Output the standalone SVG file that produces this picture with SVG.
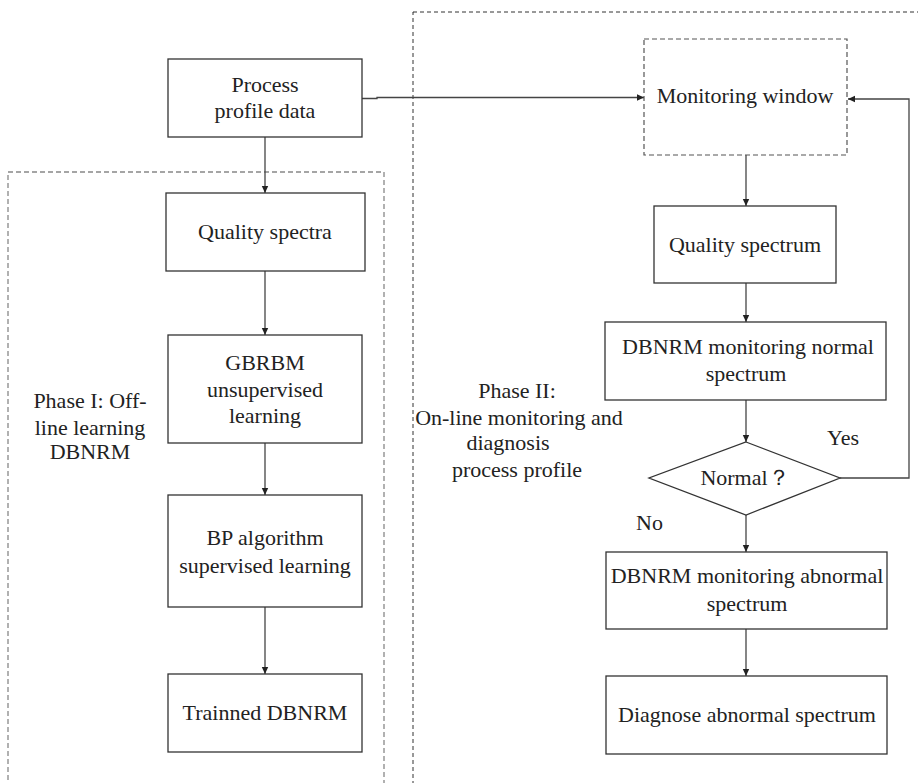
<svg xmlns="http://www.w3.org/2000/svg" width="918" height="783" viewBox="0 0 918 783">
<style>
  .box{fill:#fff;stroke:#333;stroke-width:1.3}
  .dbox{fill:none;stroke:#555;stroke-width:1.2;stroke-dasharray:5,3}
  .t{font-family:"Liberation Serif","Times New Roman",serif;font-size:22px;fill:#222;text-anchor:middle}
  .tl{font-family:"Liberation Serif","Times New Roman",serif;font-size:22px;fill:#222}
  .c{fill:none;stroke:#444;stroke-width:1.3}
</style>
<defs>
  <marker id="ah" markerWidth="8" markerHeight="8" refX="7" refY="4" orient="auto" markerUnits="userSpaceOnUse">
    <path d="M0,0.8 L7,4 L0,7.2 Z" fill="#222"/>
  </marker>
</defs>
<rect width="918" height="783" fill="#fff"/>

<g id="phase1-region">
  <rect x="8" y="172" width="376" height="620" fill="none" stroke="#888" stroke-width="1.3" stroke-dasharray="5,3"/>
  <text class="t" x="90" y="408">Phase I: Off-</text>
  <text class="t" x="90" y="435">line learning</text>
  <text class="t" x="90" y="459">DBNRM</text>
</g>
<g id="phase2-region">
  <rect x="413" y="12" width="520" height="780" fill="none" stroke="#333" stroke-width="1" stroke-dasharray="4,3"/>
  <text class="t" x="517" y="398">Phase II:</text>
  <text class="t" x="519" y="425">On-line monitoring and</text>
  <text class="t" x="508" y="450">diagnosis</text>
  <text class="t" x="517" y="477">process profile</text>
</g>

<g id="connectors">
  <line class="c" x1="265" y1="137" x2="265" y2="193" marker-end="url(#ah)"/>
  <line class="c" x1="265" y1="271" x2="265" y2="335" marker-end="url(#ah)"/>
  <line class="c" x1="265" y1="443" x2="265" y2="495" marker-end="url(#ah)"/>
  <line class="c" x1="265" y1="607" x2="265" y2="674" marker-end="url(#ah)"/>
  <path class="c" d="M362,98.5 H377 V97.5 H644" marker-end="url(#ah)"/>
  <line class="c" x1="746" y1="155" x2="746" y2="206" marker-end="url(#ah)"/>
  <line class="c" x1="746" y1="283" x2="746" y2="322" marker-end="url(#ah)"/>
  <line class="c" x1="746" y1="400" x2="746" y2="442" marker-end="url(#ah)"/>
  <path class="c" d="M840,478 H909 V99 H848" marker-end="url(#ah)"/>
  <line class="c" x1="746" y1="515" x2="746" y2="552" marker-end="url(#ah)"/>
  <line class="c" x1="746" y1="629" x2="746" y2="676" marker-end="url(#ah)"/>
  <text class="t" x="843" y="445">Yes</text>
  <text class="tl" x="636" y="530">No</text>
</g>

<g id="process-profile-data">
  <rect class="box" x="168" y="59" width="194" height="78"/>
  <text class="t" x="265" y="92">Process</text>
  <text class="t" x="265" y="118">profile data</text>
</g>
<g id="quality-spectra">
  <rect class="box" x="166" y="193" width="199" height="78"/>
  <text class="t" x="265" y="239">Quality spectra</text>
</g>
<g id="gbrbm">
  <rect class="box" x="168" y="335" width="194" height="108"/>
  <text class="t" x="265" y="370">GBRBM</text>
  <text class="t" x="265" y="397">unsupervised</text>
  <text class="t" x="265" y="423">learning</text>
</g>
<g id="bp-algorithm">
  <rect class="box" x="168" y="495" width="194" height="112"/>
  <text class="t" x="265" y="545">BP algorithm</text>
  <text class="t" x="265" y="573">supervised learning</text>
</g>
<g id="trained-dbnrm">
  <rect class="box" x="168" y="674" width="194" height="78"/>
  <text class="t" x="265" y="720">Trainned DBNRM</text>
</g>

<g id="monitoring-window">
  <rect class="dbox" x="644" y="39" width="203" height="116"/>
  <text class="t" x="745" y="103">Monitoring window</text>
</g>
<g id="quality-spectrum">
  <rect class="box" x="654" y="206" width="182" height="77"/>
  <text class="t" x="745" y="252">Quality spectrum</text>
</g>
<g id="dbnrm-normal">
  <rect class="box" x="605" y="322" width="281" height="78"/>
  <text class="t" x="748" y="354">DBNRM monitoring normal</text>
  <text class="t" x="746" y="381">spectrum</text>
</g>
<g id="normal-decision">
  <polygon class="box" points="746,442 840,478 746,515 649,478"/>
  <text class="t" x="745" y="485">Normal？</text>
</g>
<g id="dbnrm-abnormal">
  <rect class="box" x="606" y="552" width="281" height="77"/>
  <text class="t" x="747" y="583">DBNRM monitoring abnormal</text>
  <text class="t" x="747" y="611">spectrum</text>
</g>
<g id="diagnose-abnormal">
  <rect class="box" x="606" y="676" width="281" height="78"/>
  <text class="t" x="747" y="722">Diagnose abnormal spectrum</text>
</g>
</svg>
